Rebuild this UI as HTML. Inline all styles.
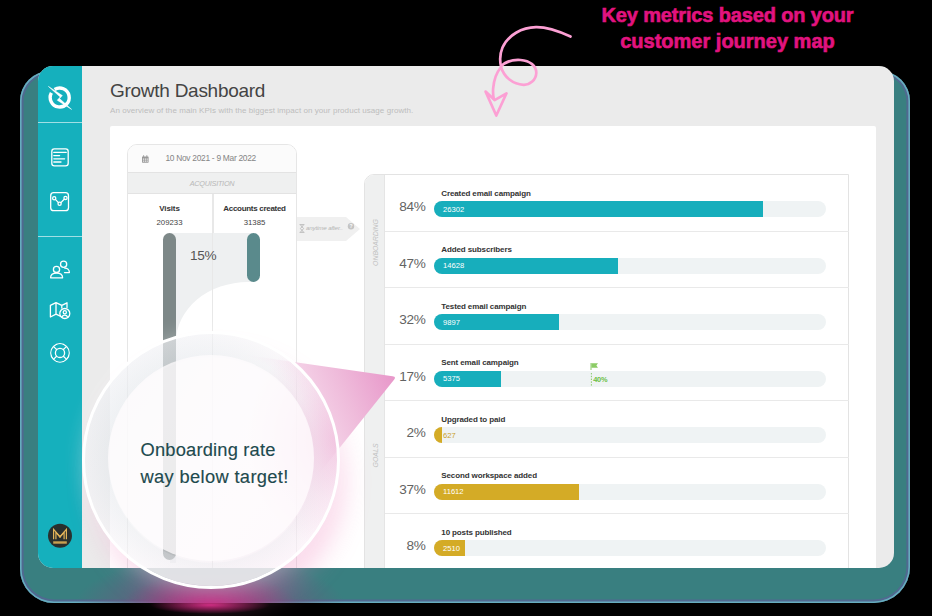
<!DOCTYPE html>
<html><head><meta charset="utf-8">
<style>
*{margin:0;padding:0;box-sizing:border-box}
html,body{width:932px;height:616px;overflow:hidden;background:#000;font-family:"Liberation Sans",sans-serif}
.a{position:absolute}
.t{white-space:nowrap;line-height:1}
#shadow{left:20px;top:71px;width:890px;height:532px;border-radius:30px 30px 36px 34px;background:#397f80;overflow:hidden;box-shadow:inset 0 0 0 1.6px rgba(110,195,205,0.75),inset 0 0 0 3.6px rgba(88,98,150,0.75)}
#card{left:38px;top:66px;width:856px;height:502px;border-radius:15px;background:#ebebeb;overflow:hidden}
#in{left:-38px;top:-66px;width:932px;height:616px}
.hr{left:38px;width:44px;height:1px;background:rgba(255,255,255,.6)}
.pct{font-size:13.6px;color:#636363;text-align:right;letter-spacing:-0.3px}
.lbl{font-size:8px;font-weight:bold;color:#333;letter-spacing:-0.12px}
.trk{width:392.0px;height:16px;border-radius:8px;background:#eff3f4;overflow:hidden}
.val{font-size:7.6px}
.ic{stroke:#fff;fill:none;stroke-width:1.3}
</style></head>
<body>
<!-- pink headline -->
<div class="a t" style="left:560px;width:335px;top:4.66px;text-align:center;font-size:20px;font-weight:bold;color:#e2137f;letter-spacing:-0.15px;-webkit-text-stroke:0.6px #e2137f">Key metrics based on your</div>
<div class="a t" style="left:560px;width:335px;top:31.06px;text-align:center;font-size:20px;font-weight:bold;color:#e2137f;letter-spacing:0px;-webkit-text-stroke:0.6px #e2137f">customer journey map</div>

<div class="a" style="left:150px;top:596px;width:120px;height:18px;border-radius:50%;background:radial-gradient(ellipse closest-side,rgba(235,35,140,0.85),rgba(225,30,130,0.35) 60%,rgba(220,30,130,0))"></div>
<div id="shadow" class="a"><div class="a" style="left:0px;top:487px;width:380px;height:90px;background:radial-gradient(ellipse 135px 48px at 190px 47px,rgba(190,35,125,1) 0%,rgba(140,65,125,0.9) 35%,rgba(100,95,128,0.6) 65%,rgba(57,127,128,0) 100%)"></div></div>
<div id="card" class="a"><div id="in" class="a">
  <!-- sidebar -->
  <div class="a" style="left:38px;top:66px;width:44px;height:502px;background:#15b0bd"></div>
  <div class="hr a" style="top:122px"></div>
  <div class="hr a" style="top:236px"></div>
  <!-- title -->
  <div class="a t" style="left:110px;top:81.01px;font-size:19px;color:#444;letter-spacing:-0.27px">Growth Dashboard</div>
  <div class="a t" style="left:110px;top:107.42px;font-size:8px;color:#bdbdbd;letter-spacing:0.06px">An overview of the main KPIs with the biggest impact on your product usage growth.</div>
  <!-- white panel -->
  <div class="a" style="left:110px;top:126px;width:766px;height:460px;background:#fff;border-radius:2px"></div>

  <!-- acquisition card -->
  <div class="a" style="left:127px;top:144px;width:170px;height:440px;border:1px solid #e6e6e6;border-radius:10px 10px 0 0;background:#fff;overflow:hidden">
    <div class="a" style="left:0;top:0;width:168px;height:28px;background:#fbfbfb;border-bottom:1px solid #e3e3e3"></div>
    <div class="a" style="left:0;top:28px;width:168px;height:21px;background:#eff0f0;border-bottom:1px solid #e3e3e3"></div>
    <div class="a" style="left:85px;top:49px;width:1px;height:400px;background:#e8e8e8"></div>
  </div>
  <div class="a t" style="left:165.4px;top:153.89px;font-size:8.4px;color:#858585;letter-spacing:-0.28px">10 Nov 2021 - 9 Mar 2022</div>
  <div class="a t" style="left:127px;width:170px;text-align:center;top:179.62px;font-size:7.3px;font-style:italic;color:#b8b8b8;letter-spacing:-0.25px">ACQUISITION</div>
  <div class="a t" style="left:127px;width:85px;text-align:center;top:205.02px;font-size:8px;font-weight:bold;color:#333;letter-spacing:-0.1px">Visits</div>
  <div class="a t" style="left:127px;width:85px;text-align:center;top:218.69px;font-size:7.8px;color:#444">209233</div>
  <div class="a t" style="left:212px;width:85px;text-align:center;top:205.02px;font-size:8px;font-weight:bold;color:#333;letter-spacing:-0.3px">Accounts created</div>
  <div class="a t" style="left:212px;width:85px;text-align:center;top:218.69px;font-size:7.8px;color:#444">31385</div>
  <!-- funnel -->
  <div class="a" style="left:170px;top:233px;width:84px;height:330px;background:#eef0f1"></div>
  <div class="a" style="left:176px;top:282px;width:90px;height:300px;background:#fff;border-top-left-radius:72px 60px"></div>
  <div class="a" style="left:212px;top:194px;width:1px;height:380px;background:#e8e8e8"></div>
  <div class="a" style="left:163px;top:233px;width:13px;height:327px;border-radius:6.5px;background:#7d8888"></div>
  <div class="a" style="left:247.3px;top:233px;width:13px;height:49px;border-radius:6.5px;background:#5a8a8c"></div>
  <div class="a t" style="left:190px;top:249.48px;font-size:13.6px;color:#555;letter-spacing:-0.3px">15%</div>

  <!-- connector -->
  <svg class="a" style="left:297px;top:217px" width="64" height="24"><path d="M0 0H49L63 12L49 24H0Z" fill="#f0f0f0"/></svg>
  <div class="a t" style="left:306px;top:225.25px;font-size:6.2px;font-style:italic;color:#b5b5b5;letter-spacing:-0.15px">anytime after..</div>

  <!-- onboarding panel -->
  <div class="a" style="left:364px;top:174px;width:485px;height:420px;border:1px solid #e3e3e3;border-radius:10px 0 0 0;background:#fff;overflow:hidden">
    <div class="a" style="left:0;top:0;width:20px;height:420px;background:#eff0f0;border-right:1px solid #e5e5e5"></div>
  </div>
  <div class="a t" style="left:345px;top:238.6px;width:60px;text-align:center;font-size:7px;font-style:italic;color:#c0c0c0;transform:rotate(-90deg);letter-spacing:-0.1px">ONBOARDING</div>
  <div class="a t" style="left:345px;top:452px;width:60px;text-align:center;font-size:7px;font-style:italic;color:#c0c0c0;transform:rotate(-90deg)">GOALS</div>
<div class="a" style="left:385px;top:230.50px;width:464px;height:1px;background:#e9e9e9"></div>
<div class="a t pct" style="left:380px;width:45.5px;top:200.08px">84%</div>
<div class="a t lbl" style="left:441.3px;top:189.52px">Created email campaign</div>
<div class="a trk" style="left:434.0px;top:201.00px"><div class="a" style="left:0;top:0;width:329.3px;height:16px;background:#17aebc"></div><div class="a t val" style="left:9px;top:4.76px;color:#fff">26302</div></div>
<div class="a" style="left:385px;top:287.00px;width:464px;height:1px;background:#e9e9e9"></div>
<div class="a t pct" style="left:380px;width:45.5px;top:256.58px">47%</div>
<div class="a t lbl" style="left:441.3px;top:246.02px">Added subscribers</div>
<div class="a trk" style="left:434.0px;top:257.50px"><div class="a" style="left:0;top:0;width:184.2px;height:16px;background:#17aebc"></div><div class="a t val" style="left:9px;top:4.76px;color:#fff">14628</div></div>
<div class="a" style="left:385px;top:343.50px;width:464px;height:1px;background:#e9e9e9"></div>
<div class="a t pct" style="left:380px;width:45.5px;top:313.08px">32%</div>
<div class="a t lbl" style="left:441.3px;top:302.52px">Tested email campaign</div>
<div class="a trk" style="left:434.0px;top:314.00px"><div class="a" style="left:0;top:0;width:125.4px;height:16px;background:#17aebc"></div><div class="a t val" style="left:9px;top:4.76px;color:#fff">9897</div></div>
<div class="a" style="left:385px;top:400.00px;width:464px;height:1px;background:#e9e9e9"></div>
<div class="a t pct" style="left:380px;width:45.5px;top:369.58px">17%</div>
<div class="a t lbl" style="left:441.3px;top:359.02px">Sent email campaign</div>
<div class="a trk" style="left:434.0px;top:370.50px"><div class="a" style="left:0;top:0;width:66.6px;height:16px;background:#17aebc"></div><div class="a t val" style="left:9px;top:4.76px;color:#fff">5375</div></div>
<div class="a" style="left:385px;top:456.50px;width:464px;height:1px;background:#e9e9e9"></div>
<div class="a t pct" style="left:380px;width:45.5px;top:426.08px">2%</div>
<div class="a t lbl" style="left:441.3px;top:415.52px">Upgraded to paid</div>
<div class="a trk" style="left:434.0px;top:427.00px"><div class="a" style="left:0;top:0;width:8.0px;height:16px;background:#d4ab26"></div><div class="a t val" style="left:9px;top:4.76px;color:#c9a02a">627</div></div>
<div class="a" style="left:385px;top:513.00px;width:464px;height:1px;background:#e9e9e9"></div>
<div class="a t pct" style="left:380px;width:45.5px;top:482.58px">37%</div>
<div class="a t lbl" style="left:441.3px;top:472.02px">Second workspace added</div>
<div class="a trk" style="left:434.0px;top:483.50px"><div class="a" style="left:0;top:0;width:145.0px;height:16px;background:#d4ab26"></div><div class="a t val" style="left:9px;top:4.76px;color:#fff">11612</div></div>
<div class="a" style="left:385px;top:569.50px;width:464px;height:1px;background:#e9e9e9"></div>
<div class="a t pct" style="left:380px;width:45.5px;top:539.08px">8%</div>
<div class="a t lbl" style="left:441.3px;top:528.52px">10 posts published</div>
<div class="a trk" style="left:434.0px;top:540.00px"><div class="a" style="left:0;top:0;width:31.4px;height:16px;background:#d4ab26"></div><div class="a t val" style="left:9px;top:4.76px;color:#fff">2510</div></div>

  <!-- sidebar icons -->
  <svg class="a" style="left:0;top:0" width="932" height="616">
    <g fill="none" stroke="#fff">
      <path d="M53.2 88.6 A9.5 9.5 0 1 0 56.3 88.6" stroke-width="0"/>
      <path d="M54.6 89.5 A9.5 9.5 0 1 1 51.4 92.9" stroke-width="3.4"/>
    </g>
    <path d="M48.4 86.4 L62.4 95.6 L59.6 98.6 L71.6 109.4 L57.2 100.2 L60.2 97 Z" fill="#fff" stroke="#fff" stroke-width="0.5" stroke-linejoin="round"/>
    <g fill="none" stroke="#fff" stroke-width="1.3" stroke-linecap="round" stroke-linejoin="round">
      <rect x="51.8" y="148.8" width="16.4" height="17" rx="2.6"/>
      <path d="M53.8 152.4H66.2M53.8 155.6H59.6M53.8 158.8H64.6M53.8 162H61"/>
      <rect x="50.7" y="192.7" width="17.8" height="18" rx="3"/>
      <path d="M55.4 199.4L58.4 202.6M60.9 202.6L64.2 199.2"/>
      <circle cx="54.2" cy="198.2" r="1.6"/><circle cx="59.6" cy="203.7" r="1.6"/><circle cx="65.5" cy="197.9" r="1.6"/>
      <circle cx="63.6" cy="264.2" r="3.1"/>
      <path d="M64.5 272.6H69.4C69.4 269.8 67.2 268.2 64.8 268.2"/>
      <circle cx="56.5" cy="269.4" r="3.1"/>
      <path d="M50.6 277.8H62.6C62.6 274.6 60 273.2 56.6 273.2C53.2 273.2 50.6 274.6 50.6 277.8Z"/>
      <path d="M50.4 305.4L56 302.6L61.8 305.4L67 302.8V307.6M60.8 316.4L56 314.2L50.4 317V305.4M56 302.6V314.2M61.8 305.4V308"/>
      <circle cx="64.8" cy="313.5" r="5"/>
      <circle cx="64.8" cy="312.2" r="1.6"/>
      <path d="M61.8 317.2C62.6 315.6 63.6 315.2 64.8 315.2C66 315.2 67 315.6 67.8 317.2"/>
      <circle cx="60" cy="352.9" r="9.2"/>
      <circle cx="60" cy="352.9" r="4.6"/>
      <path d="M53.9 346.9L56.6 349.5M66.1 346.9L63.4 349.5M53.9 358.9L56.6 356.3M66.1 358.9L63.4 356.3"/>
      <path d="M56.2 346.4A7 7 0 0 1 63.8 346.4M56.2 359.4A7 7 0 0 0 63.8 359.4M53.6 349.2A7 7 0 0 0 53.6 356.6M66.4 349.2A7 7 0 0 1 66.4 356.6" stroke-width="1.8" stroke="#15b0bd"/>
    </g>
    <circle cx="60" cy="535.7" r="12" fill="#29302e"/>
    <g fill="none" stroke="#e2b458" stroke-width="1.2">
      <path d="M53.6 539.3V529.4L60 536.6L66.4 529.4V539.3"/>
      <path d="M55.9 539.3V532.4L60 537.2L64.1 532.4V539.3"/>
    </g>
    <circle cx="60" cy="536.4" r="1.1" fill="#e2b458"/>
    <rect x="53.2" y="541.3" width="13.6" height="2.4" fill="#c9a050"/>
    <!-- calendar -->
    <g fill="#9a9a9a">
      <rect x="142" y="156.5" width="6.6" height="6.2" rx="0.6"/>
      <rect x="143.2" y="155.2" width="0.9" height="2" /><rect x="146.4" y="155.2" width="0.9" height="2"/>
    </g>
    <g fill="#fff"><rect x="142.9" y="158.6" width="1.2" height="1"/><rect x="144.8" y="158.6" width="1.2" height="1"/><rect x="146.6" y="158.6" width="1.2" height="1"/><rect x="142.9" y="160.6" width="1.2" height="1"/><rect x="144.8" y="160.6" width="1.2" height="1"/><rect x="146.6" y="160.6" width="1.2" height="1"/></g>
    <!-- hourglass + question -->
    <path d="M299.6 224.6H304.4M299.6 232.4H304.4M300.4 224.8L303.6 228.6L300.4 232.2M303.6 224.8L300.4 228.6L303.6 232.2" stroke="#b9b9b9" stroke-width="0.9" fill="none"/>
    <circle cx="351" cy="226.2" r="3.2" fill="#c4c4c4"/>
    <text x="351" y="228.4" font-size="5" font-weight="bold" fill="#fff" text-anchor="middle" font-family="Liberation Sans">?</text>
    <!-- goal marker -->
    <path d="M591.4 373V387" stroke="#7cc45a" stroke-width="0.9" stroke-dasharray="1.4 1.4"/>
    <path d="M591 363V370" stroke="#7cc45a" stroke-width="0.9"/>
    <path d="M591.4 363.2H598L596.4 365.5L598 367.8H591.4Z" fill="#8ccc66"/>
  </svg>
  <div class="a t" style="left:593.2px;top:376.23px;font-size:7.4px;font-weight:bold;color:#6cbf45;letter-spacing:-0.2px">40%</div>
</div></div>
<!-- magnifier -->
<div class="a" style="left:82.5px;top:331.5px;width:256px;height:256px;border-radius:50%;box-shadow:0 0 20px rgba(255,255,255,0.3),8px 22px 28px -4px rgba(238,120,185,0.32)"></div>
<svg class="a" style="left:0;top:0" width="932" height="616">
  <defs><linearGradient id="tg" x1="394" y1="378" x2="300" y2="420" gradientUnits="userSpaceOnUse">
    <stop offset="0" stop-color="#e898ca"/><stop offset="0.5" stop-color="#efbcdb"/><stop offset="1" stop-color="#f7dced"/></linearGradient>
    <radialGradient id="mg" cx="210.5" cy="459.5" r="130" gradientUnits="userSpaceOnUse">
      <stop offset="0.84" stop-color="#000"/><stop offset="1" stop-color="#fff"/></radialGradient>
    <mask id="mk" maskUnits="userSpaceOnUse" x="0" y="0" width="932" height="616"><rect width="932" height="616" fill="url(#mg)"/></mask>
  </defs>
  <path d="M210.5 350L392.6 376.2Q396.4 376.8 394.2 379.4L250 560Z" fill="url(#tg)" mask="url(#mk)"/>
</svg>
<div class="a" style="left:81.5px;top:330.5px;width:258px;height:258px;border-radius:50%;border:3.5px solid #fff;background:radial-gradient(ellipse 90px 110px at 100% 42%,rgba(236,170,210,0.55),rgba(240,190,220,0.25) 55%,rgba(245,220,235,0) 100%),radial-gradient(circle closest-side at 50% 50%,rgba(230,234,238,0) 81%,rgba(230,232,236,0.25) 82%,rgba(255,250,253,0.3) 100%),linear-gradient(125deg,rgba(226,233,237,0.62) 0%,rgba(240,240,243,0.5) 45%,rgba(250,228,242,0.5) 100%);overflow:hidden">
  <div class="a" style="left:0;top:234px;width:260px;height:30px;background:rgba(228,228,232,0.9)"></div>
</div>
<div class="a" style="left:107.5px;top:355px;width:206px;height:206px;border-radius:50%;background:rgba(255,252,254,0.74)"></div>
<div class="a t" style="left:140.5px;top:440.90px;font-size:18.3px;color:#1e4a4e;letter-spacing:0.2px;-webkit-text-stroke:0.15px #1e4a4e">Onboarding rate</div>
<div class="a t" style="left:140.5px;top:468.40px;font-size:18.3px;color:#1e4a4e;letter-spacing:0.35px;-webkit-text-stroke:0.15px #1e4a4e">way below target!</div>
<!-- arrow -->
<svg class="a" style="left:0;top:0" width="932" height="616">
  <g fill="none" stroke="#fca0d4" stroke-width="2.7" stroke-linecap="round" stroke-linejoin="round">
    <path d="M570.5 36.5C556 30 545 27 536 27.2C522 27.5 508 35 502.5 47.5C499.5 54.5 499.8 61 501 66.5C506 61 514 59.6 520.5 60C530 60.6 536.5 66 536.3 73C536 80 530 85 523.5 84.8C513 84.5 504 77 501 67C497 72 494 79 493.2 88C492.8 92 493.2 96 493.8 99"/>
    <path d="M485.6 91.6L494.6 100.1L506.5 93.3L496.3 115.5Z"/>
  </g>
</svg>

</body></html>
